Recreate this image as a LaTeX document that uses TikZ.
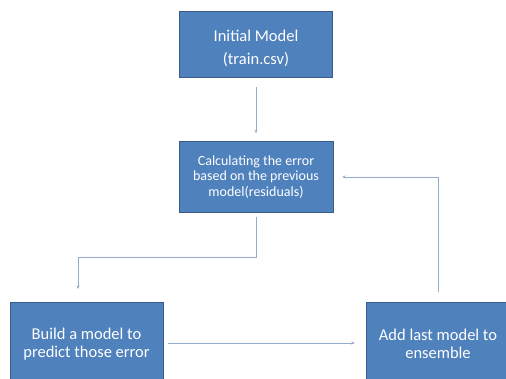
\documentclass[tikz,border=0pt]{standalone}
\usepackage{fontspec}
\setmainfont{Carlito}
\usepackage{xcolor}
\usetikzlibrary{arrows.meta}

\definecolor{boxblue}{RGB}{79,129,189}
\definecolor{boxedge}{RGB}{56,93,138}
\definecolor{linkgray}{RGB}{150,172,204}

\tikzset{
  stepbox/.style={draw=boxedge, fill=boxblue, text=white, align=center, inner sep=0pt},
  link/.style={draw=linkgray, line width=0.8pt, -{Stealth[length=3.5pt,width=3pt]}}
}

\begin{document}
\begin{tikzpicture}[x=1pt,y=-1pt]
		\useasboundingbox[fill=white] (0,0) rectangle (506,378);

		\node[stepbox, minimum width=153pt, minimum height=66pt, font=\fontsize{16.5}{23}\selectfont] (init) at (256,44) {\rule{0pt}{20pt}Initial Model\\(train.csv)};
		\node[stepbox, minimum width=154pt, minimum height=71pt, font=\fontsize{14}{15.5}\selectfont] (calc) at (256,177) {Calculating the error\\based on the previous\\model(residuals)};
		\node[stepbox, minimum width=153pt, minimum height=84pt, font=\fontsize{16.5}{18.3}\selectfont] (build) at (86.5,344) {Build a model to\\predict those error};
		\node[stepbox, minimum width=144pt, minimum height=84pt, font=\fontsize{16.5}{18.3}\selectfont] (add) at (438,344) {Add last model to\\ensemble};

		\coordinate (drop) at (78,302);

		\draw[link, shorten <=10pt, shorten >=8pt] (init.south) -- (calc.north);
		\draw[link, shorten <=4pt, shorten >=13pt] (calc.south) -- ++(0,45) -| (drop);
		\draw[link, shorten <=5pt, shorten >=11pt] (build.east |- 0,343) -- (add.west |- 0,343);
		\draw[link, shorten <=10pt, shorten >=9pt] (add.north) |- (calc.east);
	\end{tikzpicture}
\end{document}
